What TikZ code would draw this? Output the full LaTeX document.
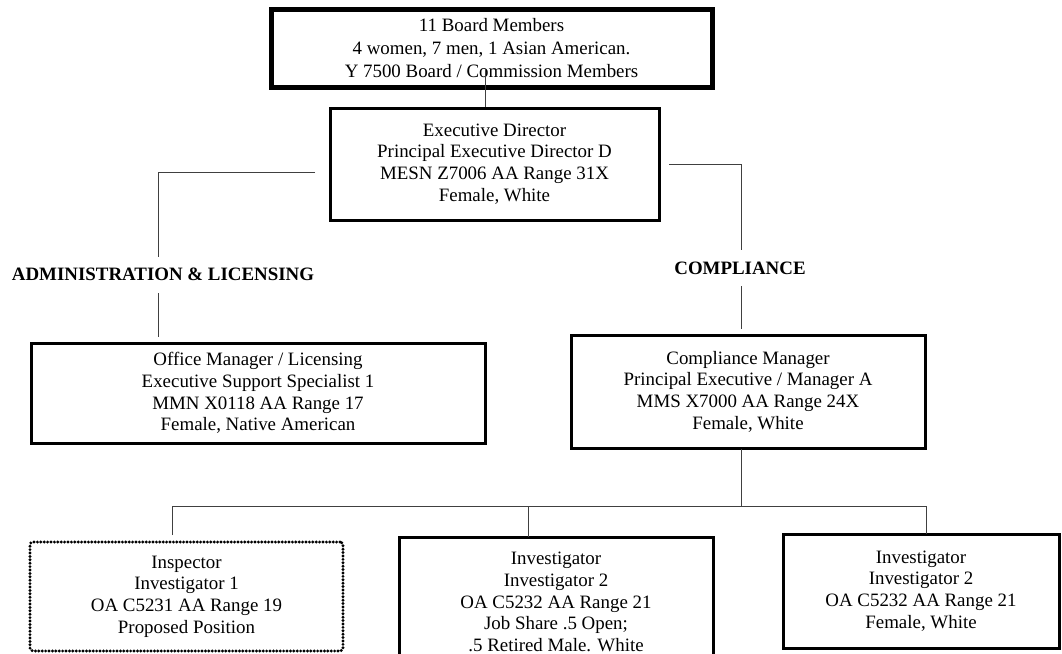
\documentclass[tikz,border=0pt]{standalone}
\usepackage{fontspec}
\setmainfont{Liberation Serif}
\begin{document}
\begin{tikzpicture}[x=1pt,y=-1pt,
  box/.style={draw, line width=3pt, inner sep=0pt, align=center,
    font=\fontsize{18.9}{21.7}\selectfont},
  dotbox/.style={box, line width=3.2pt, dash pattern=on 0pt off 3.4pt,
    line cap=round, rounded corners=3pt},
  lbl/.style={inner sep=0pt, font=\fontsize{18.9}{21.7}\selectfont\bfseries},
  conn/.style={draw=black!75, line width=0.9pt}]
\useasboundingbox (0,0) rectangle (1062,653);
\clip (0,0) rectangle (1062,653);

% boxes
\node[box, line width=5pt, minimum width=441pt, minimum height=78pt,
  font=\fontsize{18.9}{23}\selectfont] (board) at (491.5,48)
  {11 Board Members\\4 women, 7 men, 1 Asian American.\\Y 7500 Board / Commission Members};
\node[box, minimum width=329pt, minimum height=112pt] (exec) at (494.5,164)
  {Executive Director\\Principal Executive Director D\\MESN Z7006 AA Range 31X\\Female, White};
\node[box, minimum width=454pt, minimum height=100pt] (office) at (258,393)
  {Office Manager / Licensing\\Executive Support Specialist 1\\MMN X0118 AA Range 17\\Female, Native American};
\node[box, minimum width=354pt, minimum height=113pt] (comp) at (748,391.5)
  {Compliance Manager\\Principal Executive / Manager A\\MMS X7000 AA Range 24X\\Female, White};
\node[dotbox, minimum width=313pt, minimum height=109pt] (insp) at (186.5,596.5)
  {Inspector\\Investigator 1\\OA C5231 AA Range 19\\Proposed Position};
\node[box, minimum width=314pt, minimum height=130pt] (mid) at (556,602)
  {Investigator\\Investigator 2\\OA C5232 AA Range 21\\Job Share .5 Open;\\.5 Retired Male. White};
\node[box, minimum width=276pt, minimum height=114pt] (right) at (921,591)
  {Investigator\\Investigator 2\\OA C5232 AA Range 21\\Female, White};

% labels
\node[lbl] (admin) at (163,274) {ADMINISTRATION \& LICENSING};
\node[lbl] (compl) at (740,268) {COMPLIANCE};

% connector points
\coordinate (b0) at (485,70);
\coordinate (l0) at (315,172);
\coordinate (l1) at (158,172);
\coordinate (l2) at (158,257);
\coordinate (l3) at (158,293);
\coordinate (l4) at (158,337);
\coordinate (r0) at (669,164);
\coordinate (r1) at (741,164);
\coordinate (r2) at (741,250);
\coordinate (r3) at (741,286);
\coordinate (r4) at (741,329);
\coordinate (c0) at (741,449);
\coordinate (c1) at (741,506.5);
\coordinate (hl) at (172,506.5);
\coordinate (hm) at (528,506.5);
\coordinate (hr) at (926,506.5);
\coordinate (dl) at (172,535);
\coordinate (dm) at (528,537);
\coordinate (dr) at (926,534);

% connectors
\draw[conn] (b0) -- (b0 |- exec.north);
\draw[conn] (l0) -- (l1) -- (l2);
\draw[conn] (l3) -- (l4);
\draw[conn] (r0) -- (r1) -- (r2);
\draw[conn] (r3) -- (r4);
\draw[conn] (c0) -- (c1);
\draw[conn] (dl) -- (hl) -- (hr) -- (dr);
\draw[conn] (hm) -- (dm);
\end{tikzpicture}
\end{document}
